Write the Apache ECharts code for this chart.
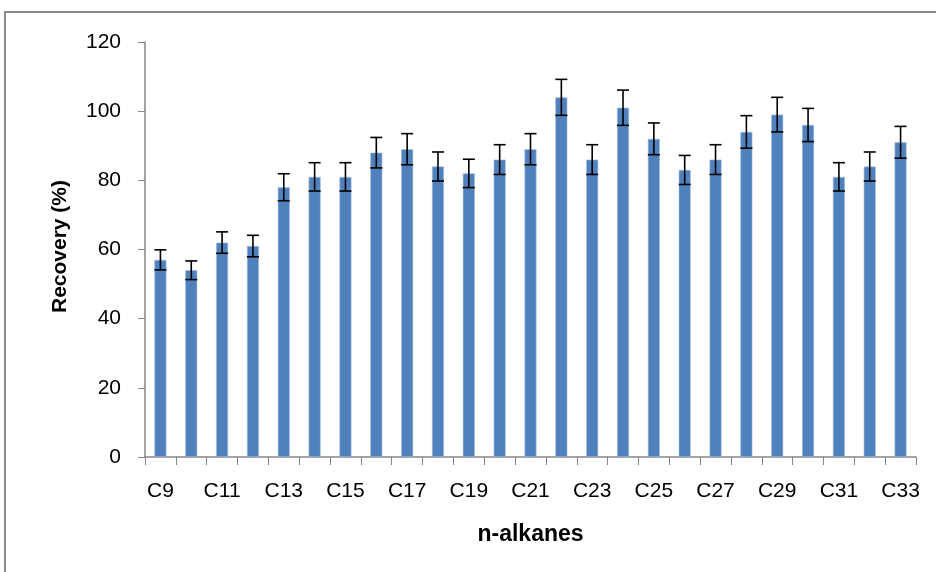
<!DOCTYPE html>
<html>
<head>
<meta charset="utf-8">
<script src="https://cdn.jsdelivr.net/npm/echarts@6/dist/echarts.min.js"></script>
<style>
  html, body { margin: 0; padding: 0; background: #fff; }
  #chart { width: 936px; height: 572px; }
</style>
</head>
<body>
<div id="chart"></div>
<script>
// n-alkane recovery with standard deviation
const categories = ['C9','C10','C11','C12','C13','C14','C15','C16','C17','C18','C19','C20','C21',
                    'C22','C23','C24','C25','C26','C27','C28','C29','C30','C31','C32','C33'];
const recovery = [57, 54, 62, 61, 78, 81, 81, 88, 89, 84, 82, 86, 89,
                  104, 86, 101, 92, 83, 86, 94, 99, 96, 81, 84, 91];
const stdDev = [2.9, 2.7, 3.1, 3.1, 3.9, 4.1, 4.1, 4.4, 4.5, 4.2, 4.1, 4.3, 4.5,
                5.2, 4.3, 5.1, 4.6, 4.2, 4.3, 4.7, 5.0, 4.8, 4.1, 4.2, 4.6];
const yTicks = [0, 20, 40, 60, 80, 100, 120];

const FONT = '"Liberation Sans", Arial, sans-serif';
const AXIS_COLOR = '#868686';

const chart = echarts.init(document.getElementById('chart'), null, { renderer: 'canvas' });

const errorData = recovery.map((v, i) => [i, v - stdDev[i], v + stdDev[i]]);

chart.setOption({
  animation: false,
  backgroundColor: '#fff',
  graphic: [{
    type: 'rect',
    shape: { x: 5, y: 12, width: 960, height: 620 },
    style: { fill: 'none', stroke: '#8a8a8a', lineWidth: 2 },
    silent: true
  }],
  grid: { left: 145, right: 20, top: 42, bottom: 115 },
  xAxis: {
    type: 'category',
    data: categories,
    boundaryGap: true,
    name: 'n-alkanes',
    nameLocation: 'middle',
    nameGap: 66,
    nameTextStyle: { fontFamily: FONT, fontSize: 23, fontWeight: 'bold', color: '#000' },
    axisLine: { lineStyle: { color: AXIS_COLOR, width: 1.5 } },
    axisTick: { show: true, alignWithLabel: false, interval: 0, length: 8, lineStyle: { color: AXIS_COLOR } },
    axisLabel: { interval: 1, margin: 24, fontFamily: FONT, fontSize: 21, color: '#000' },
    splitLine: { show: false }
  },
  yAxis: {
    type: 'value',
    min: yTicks[0],
    max: yTicks[yTicks.length - 1],
    interval: 20,
    name: 'Recovery (%)',
    nameLocation: 'middle',
    nameGap: 74,
    nameRotate: 90,
    nameTextStyle: { fontFamily: FONT, fontSize: 21, fontWeight: 'bold', color: '#000', padding: [0, 0, 0, 6] },
    axisLine: { show: true, lineStyle: { color: AXIS_COLOR, width: 1.5 } },
    axisTick: { show: true, length: 7, lineStyle: { color: AXIS_COLOR } },
    axisLabel: { margin: 24, fontFamily: FONT, fontSize: 21, color: '#000' },
    splitLine: { show: false }
  },
  series: [
    {
      type: 'bar',
      data: recovery,
      barWidth: 12,
      itemStyle: { color: '#4F81BD', borderColor: '#a9c0de', borderWidth: 0.6 },
      z: 2
    },
    {
      type: 'custom',
      data: errorData,
      z: 5,
      renderItem: function (params, api) {
        const x = api.coord([api.value(0), 0])[0];
        const lo = api.coord([api.value(0), api.value(1)])[1];
        const hi = api.coord([api.value(0), api.value(2)])[1];
        const half = 6;
        const style = { stroke: '#000', lineWidth: 1.6 };
        return {
          type: 'group',
          children: [
            { type: 'line', shape: { x1: x, y1: hi, x2: x, y2: lo }, style: style },
            { type: 'line', shape: { x1: x - half, y1: hi, x2: x + half, y2: hi }, style: style },
            { type: 'line', shape: { x1: x - half, y1: lo, x2: x + half, y2: lo }, style: style }
          ]
        };
      }
    }
  ]
});
</script>
</body>
</html>
